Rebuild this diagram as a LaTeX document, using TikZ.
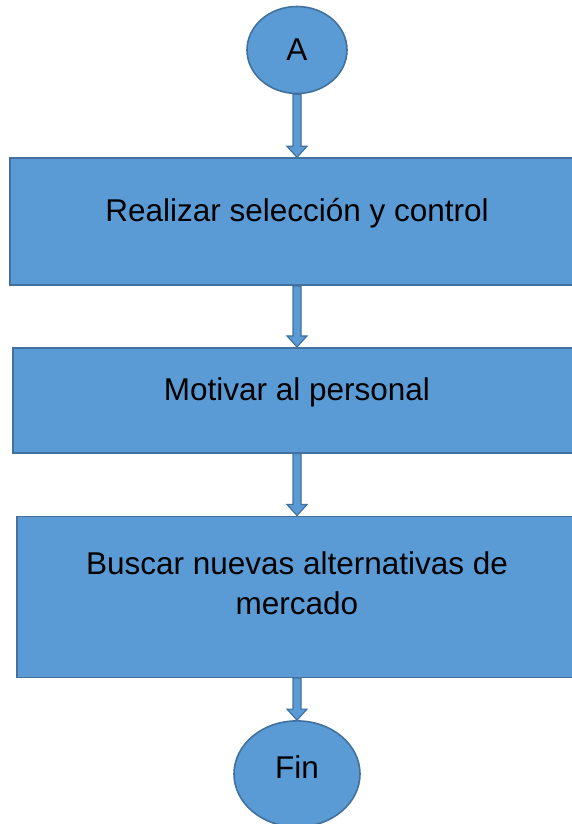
\documentclass[tikz,border=0pt]{standalone}
\usepackage{fontspec}
\setmainfont{Liberation Sans}
\usepackage{tikz}
\usepackage{xcolor}
\usetikzlibrary{positioning,calc,shapes.geometric}
\definecolor{cAzul}{HTML}{5B9BD5}
\definecolor{cBorde}{HTML}{41719C}
\definecolor{cInk}{HTML}{000000}
\tikzset{
  caja/.style   ={rectangle,draw=cBorde,fill=cAzul,line width=1.6pt,
                  align=center,inner sep=0pt,text=cInk,
                  font=\fontsize{31.5}{40}\selectfont},
  inicio/.style ={ellipse,draw=cBorde,fill=cAzul,line width=1.6pt,
                  inner sep=0pt,text=cInk,font=\fontsize{31.5}{40}\selectfont},
  flechab/.style={draw=cBorde,fill=cAzul,line width=1.2pt},
}
\newcommand{\flecha}[2]{%
  \draw[flechab] ($(#1.south)+(-4,0)$) -- ($(#1.south |- #2.north)+(-4,-11)$)
    -- ($(#1.south |- #2.north)+(-10,-11)$) -- (#1.south |- #2.north)
    -- ($(#1.south |- #2.north)+(10,-11)$) -- ($(#1.south |- #2.north)+(4,-11)$)
    -- ($(#1.south)+(4,0)$) -- cycle;}
\begin{document}
\begin{tikzpicture}[x=1pt,y=-1pt]
\useasboundingbox (0,0) rectangle (572,824);
\clip (0,0) rectangle (572,824);
\node[inicio,minimum width=100pt,minimum height=87pt] (a) at (297,50) {A};
\node[caja,minimum width=574pt,minimum height=127pt,text height=9pt,text depth=9pt,
      below=63pt of a] (r1) {Realizar selección y control};
\node[caja,minimum width=568pt,minimum height=105pt,text height=9pt,text depth=9pt,
      below=61pt of r1] (r2) {Motivar al personal};
\node[caja,minimum width=560pt,minimum height=161pt,text height=45pt,text depth=10pt,
      below=62pt of r2] (r3) {Buscar nuevas alternativas de\\ mercado};
\node[inicio,minimum width=126pt,minimum height=106pt,text height=10pt,text depth=0pt,
      below=42pt of r3] (fin) {Fin};
\flecha{a}{r1}
\flecha{r1}{r2}
\flecha{r2}{r3}
\flecha{r3}{fin}
\end{tikzpicture}
\end{document}
